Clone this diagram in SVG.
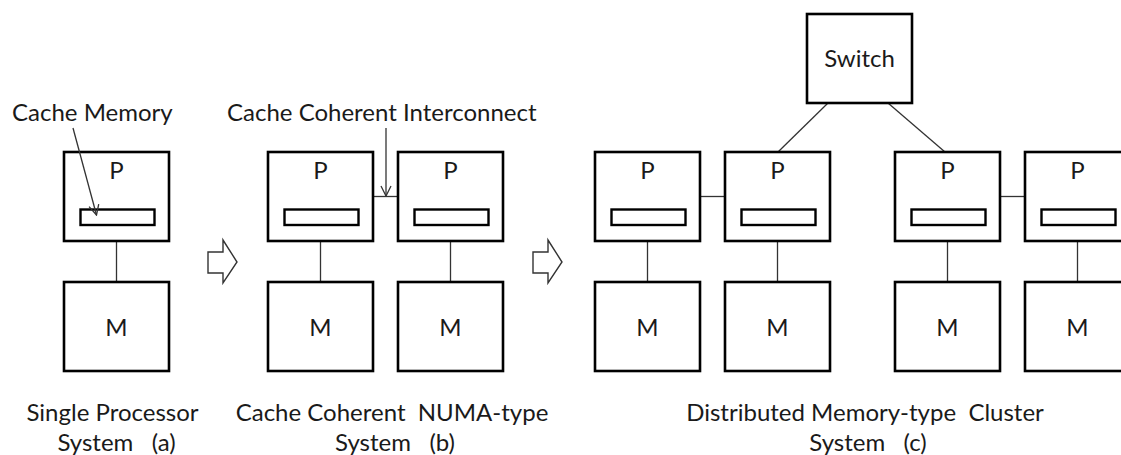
<svg xmlns="http://www.w3.org/2000/svg" width="1121" height="455" viewBox="0 0 1121 455">
  <style>
    .box { fill: #ffffff; stroke: #000000; stroke-width: 2.6; }
    .cache { fill: #ffffff; stroke: #000000; stroke-width: 2.4; }
    .wire { stroke: #333333; stroke-width: 1.3; fill: none; }
    .step { fill: #ffffff; stroke: #333333; stroke-width: 1.4; stroke-linejoin: miter; }
    text { font-family: Lato, "Liberation Sans", sans-serif; font-size: 24px; fill: #1a1a1a; white-space: pre; }
    .c { text-anchor: middle; }
  </style>
  <defs>
    <marker id="open-head" viewBox="0 0 12 12" refX="11" refY="6" markerWidth="12" markerHeight="12" markerUnits="userSpaceOnUse" orient="auto">
      <path d="M1,1 L11,6 L1,11" fill="none" stroke="#333333" stroke-width="1.3"/>
    </marker>
  </defs>

  <!-- connectors -->
  <g id="connectors">
    <!-- processor to memory links -->
    <line class="wire" x1="116.5" y1="241" x2="116.5" y2="282"/>
    <line class="wire" x1="320.5" y1="241" x2="320.5" y2="282"/>
    <line class="wire" x1="450.5" y1="241" x2="450.5" y2="282"/>
    <line class="wire" x1="647.5" y1="241" x2="647.5" y2="282"/>
    <line class="wire" x1="777.5" y1="241" x2="777.5" y2="282"/>
    <line class="wire" x1="947.5" y1="241" x2="947.5" y2="282"/>
    <line class="wire" x1="1077.5" y1="241" x2="1077.5" y2="282"/>
    <!-- processor to processor links -->
    <line class="wire" x1="373" y1="196.5" x2="398" y2="196.5"/>
    <line class="wire" x1="700" y1="196.5" x2="725" y2="196.5"/>
    <line class="wire" x1="1000" y1="196.5" x2="1025" y2="196.5"/>
    <!-- switch links -->
    <line class="wire" x1="828" y1="103" x2="778" y2="152"/>
    <line class="wire" x1="888" y1="103" x2="945" y2="152"/>
  </g>

  <!-- stage arrows -->
  <g id="step-a-b">
    <polygon class="step" points="208,252 223,252 223,240 237,262 223,283 223,273 208,273"/>
  </g>
  <g id="step-b-c">
    <polygon class="step" points="533,252 548,252 548,240 562,262 548,283 548,273 533,273"/>
  </g>

  <!-- (a) single processor -->
  <g id="a-proc">
    <rect class="box" x="64" y="152" width="105" height="89"/>
    <text class="c" x="116.5" y="179">P</text>
    <rect class="cache" x="80.5" y="209.5" width="74" height="15.5"/>
  </g>
  <g id="a-mem">
    <rect class="box" x="64" y="282" width="105" height="89"/>
    <text class="c" x="116.5" y="336">M</text>
  </g>

  <!-- (b) cache coherent NUMA -->
  <g id="b-proc1">
    <rect class="box" x="268" y="152" width="105" height="89"/>
    <text class="c" x="320.5" y="179">P</text>
    <rect class="cache" x="284.5" y="209.5" width="74" height="15.5"/>
  </g>
  <g id="b-proc2">
    <rect class="box" x="398" y="152" width="105" height="89"/>
    <text class="c" x="450.5" y="179">P</text>
    <rect class="cache" x="414.5" y="209.5" width="74" height="15.5"/>
  </g>
  <g id="b-mem1">
    <rect class="box" x="268" y="282" width="105" height="89"/>
    <text class="c" x="320.5" y="336">M</text>
  </g>
  <g id="b-mem2">
    <rect class="box" x="398" y="282" width="105" height="89"/>
    <text class="c" x="450.5" y="336">M</text>
  </g>

  <!-- (c) distributed memory cluster -->
  <g id="switch">
    <rect class="box" x="807" y="14" width="105" height="89"/>
    <text class="c" x="859.5" y="67">Switch</text>
  </g>
  <g id="c-proc1">
    <rect class="box" x="595" y="152" width="105" height="89"/>
    <text class="c" x="647.5" y="179">P</text>
    <rect class="cache" x="611.5" y="209.5" width="74" height="15.5"/>
  </g>
  <g id="c-proc2">
    <rect class="box" x="725" y="152" width="105" height="89"/>
    <text class="c" x="777.5" y="179">P</text>
    <rect class="cache" x="741.5" y="209.5" width="74" height="15.5"/>
  </g>
  <g id="c-proc3">
    <rect class="box" x="895" y="152" width="105" height="89"/>
    <text class="c" x="947.5" y="179">P</text>
    <rect class="cache" x="911.5" y="209.5" width="74" height="15.5"/>
  </g>
  <g id="c-proc4">
    <rect class="box" x="1025" y="152" width="105" height="89"/>
    <text class="c" x="1077.5" y="179">P</text>
    <rect class="cache" x="1041.5" y="209.5" width="74" height="15.5"/>
  </g>
  <g id="c-mem1">
    <rect class="box" x="595" y="282" width="105" height="89"/>
    <text class="c" x="647.5" y="336">M</text>
  </g>
  <g id="c-mem2">
    <rect class="box" x="725" y="282" width="105" height="89"/>
    <text class="c" x="777.5" y="336">M</text>
  </g>
  <g id="c-mem3">
    <rect class="box" x="895" y="282" width="105" height="89"/>
    <text class="c" x="947.5" y="336">M</text>
  </g>
  <g id="c-mem4">
    <rect class="box" x="1025" y="282" width="105" height="89"/>
    <text class="c" x="1077.5" y="336">M</text>
  </g>

  <!-- label pointers, drawn over the boxes -->
  <g id="pointers">
    <line class="wire" x1="73" y1="128" x2="96.5" y2="215" marker-end="url(#open-head)"/>
    <line class="wire" x1="386" y1="128" x2="386" y2="196" marker-end="url(#open-head)"/>
  </g>

  <!-- labels -->
  <g id="labels">
    <text x="12" y="121">Cache Memory</text>
    <text x="227" y="121">Cache Coherent Interconnect</text>
    <text class="c" x="112.5" y="421">Single Processor</text>
    <text class="c" x="116.5" y="451">System   (a)</text>
    <text class="c" x="392" y="421">Cache Coherent  NUMA-type</text>
    <text class="c" x="395" y="451">System   (b)</text>
    <text class="c" x="865" y="421">Distributed Memory-type  Cluster</text>
    <text class="c" x="868" y="451">System   (c)</text>
  </g>
</svg>
